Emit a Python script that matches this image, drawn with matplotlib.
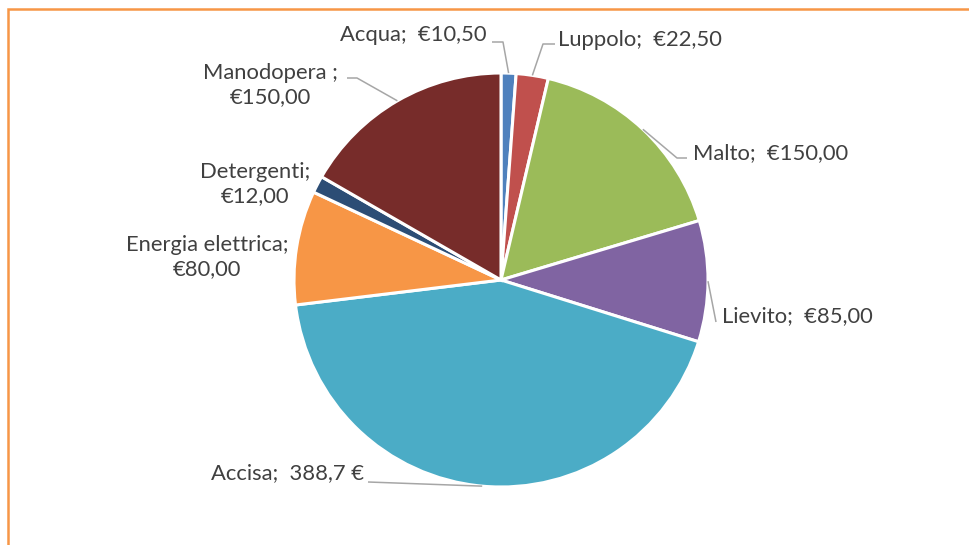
import matplotlib
matplotlib.use("Agg")
import matplotlib.pyplot as plt
from matplotlib.patches import Rectangle
import numpy as np

categories = ["Acqua", "Luppolo", "Malto", "Lievito", "Accisa",
              "Energia elettrica", "Detergenti", "Manodopera "]
values = [10.5, 22.5, 150.0, 85.0, 388.7, 80.0, 12.0, 150.0]
value_labels = ["€10,50", "€22,50", "€150,00", "€85,00", "388,7 €",
                "€80,00", "€12,00", "€150,00"]
colors = ["#4F81BD", "#C0504D", "#9BBB59", "#8064A2", "#4BACC6",
          "#F79646", "#2C4D75", "#772C2A"]

W, H = 969, 545
fig = plt.figure(figsize=(W / 100, H / 100), dpi=100)
ax = fig.add_axes([0, 0, 1, 1])
ax.set_xlim(0, W)
ax.set_ylim(0, H)
ax.axis("off")

cx, cy, R = 501, H - 280, 207
wedges, _ = ax.pie(values, colors=colors, startangle=90, counterclock=False,
                   center=(cx, cy), radius=R,
                   wedgeprops=dict(edgecolor="white", linewidth=2.2))
ax.set_xlim(0, W)
ax.set_ylim(0, H)
ax.set_aspect("auto")

# border
ax.add_patch(Rectangle((8.5, -20), W + 40, H - 8.5 + 20, fill=False,
                       edgecolor="#F79646", linewidth=1.8, clip_on=False))

txt_color = "#404040"
line_color = "#A6A6A6"
fs = 15.8
font = "Lato"

def anchor(i):
    w = wedges[i]
    ang = np.deg2rad((w.theta1 + w.theta2) / 2)
    return cx + R * np.cos(ang), cy + R * np.sin(ang)

def label_text(i, sep):
    return f"{categories[i]};{sep}{value_labels[i]}"

# label layout: (pixel x, pixel y, ha, multiline, leader path in pixels)
layout = {
    0: (487, 35, "right", False, [(492, 42), (503, 42)]),
    1: (558, 40, "left", False, [(555, 44), (543, 44)]),
    2: (693, 153, "left", False, [(687, 158), (677, 158)]),
    3: (722, 316, "left", False, [(716, 322)]),
    4: (364, 473, "right", False, [(368, 482)]),
    5: (207, 257, "center", True, None),
    6: (255, 184, "center", True, None),
    7: (270, 85, "center", True, [(347, 78), (357, 78)]),
}

for i, (px, py, ha, multi, path) in layout.items():
    s = label_text(i, "\n" if multi else "  ")
    ax.text(px, H - py, s, ha=ha, va="center", fontsize=fs, family=font,
            color=txt_color, linespacing=1.3)
    if path:
        ax_, ay_ = anchor(i)
        xs = [p[0] for p in path] + [ax_]
        ys = [H - p[1] for p in path] + [ay_]
        ax.plot(xs, ys, color=line_color, linewidth=1.1, solid_capstyle="butt")

fig.savefig("out.png", dpi=100, facecolor="white")
